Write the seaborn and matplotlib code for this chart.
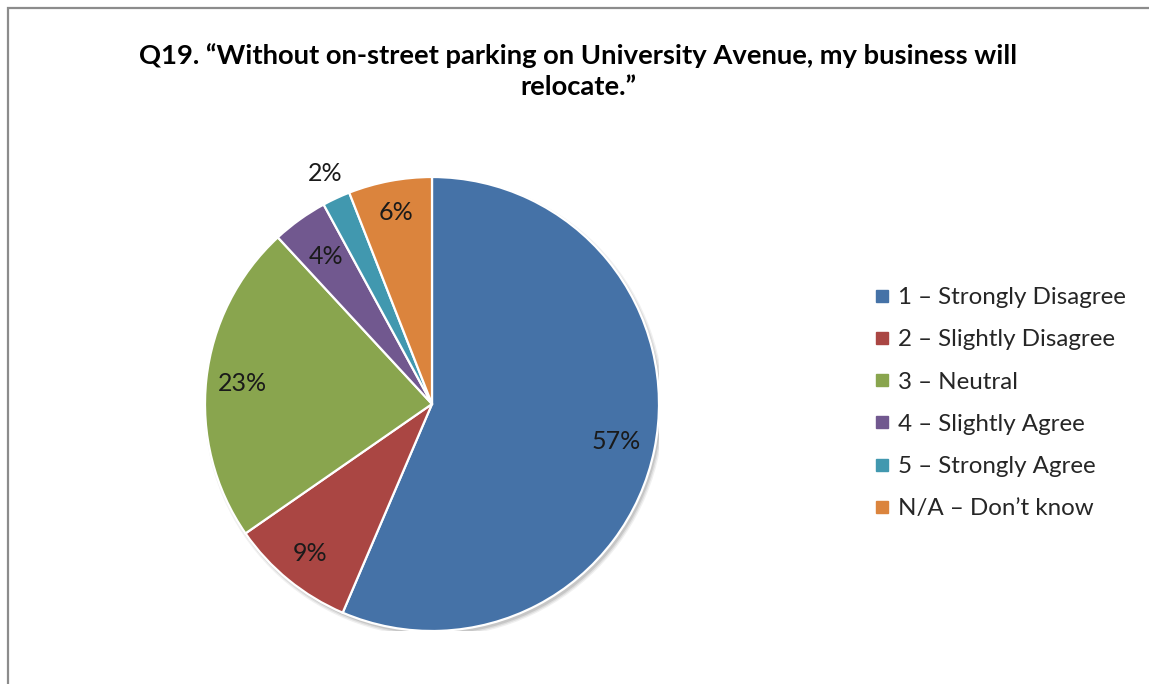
import numpy as np
import matplotlib
matplotlib.use("Agg")
import matplotlib.pyplot as plt
from matplotlib.lines import Line2D
from matplotlib.patches import Rectangle, Circle
import seaborn as sns

# ---- data ----
categories = ["1 \u2013 Strongly Disagree", "2 \u2013 Slightly Disagree", "3 \u2013 Neutral",
              "4 \u2013 Slightly Agree", "5 \u2013 Strongly Agree", "N/A \u2013 Don\u2019t know"]
values = [57, 9, 23, 4, 2, 6]
colors = ["#4572A7", "#AA4643", "#89A54E", "#71588F", "#4198AF", "#DB843D"]
title = "Q19. \u201cWithout on-street parking on University Avenue, my business will\nrelocate.\u201d"

sns.set_theme(style="white")
plt.rcParams["font.family"] = ["Lato", "DejaVu Sans"]

W, H = 1149, 684
fig = plt.figure(figsize=(W / 100, H / 100), dpi=100)
fig.patch.set_facecolor("white")

# outer frame
fig.patches.append(Rectangle((8 / W, -0.2), 1.2, (1 - 8 / H) + 0.2, transform=fig.transFigure,
                             fill=False, edgecolor="#8c8c8c", linewidth=1.6, zorder=0))

cx, cy, R = 432, 404, 227
ax = fig.add_axes([(cx - R) / W, (H - cy - R) / H, 2 * R / W, 2 * R / H])

# soft shadow
for k, a in enumerate([0.10, 0.08, 0.06]):
    ax.add_patch(Circle((0.010, -0.014), 1.0 + 0.006 * k, facecolor="#000000", alpha=a,
                        edgecolor="none", zorder=0))

wedges, texts = ax.pie(values, colors=colors, startangle=90, counterclock=False,
                       radius=1.0,
                       wedgeprops=dict(edgecolor="white", linewidth=1.6, zorder=2))
ax.set_xlim(-1, 1)
ax.set_ylim(-1, 1)
ax.set_aspect("equal")
ax.axis("off")

dists = [0.83, 0.85, 0.84, 0.80, 1.12, 0.86]
for w, v, d in zip(wedges, values, dists):
    ang = np.deg2rad((w.theta1 + w.theta2) / 2)
    ax.text(d * np.cos(ang), d * np.sin(ang), f"{v}%", ha="center", va="center",
            fontsize=18, color="#1a1a1a", zorder=5)

fig.text(0.503, 1 - 71 / H, title, ha="center", va="center", fontsize=19.7,
         fontweight="bold", color="#000000", linespacing=1.38)

handles = [Line2D([], [], marker="s", linestyle="none", markersize=8.6,
                  markerfacecolor=c, markeredgecolor=c) for c in colors]
fig.legend(handles, categories, loc="upper left", bbox_to_anchor=(874 / W, 1 - 287 / H),
           frameon=False, fontsize=17.4, handlelength=0.7, handletextpad=0.3,
           labelspacing=0.88, borderaxespad=0, borderpad=0)

fig.savefig("out.png", dpi=100, facecolor="white")
